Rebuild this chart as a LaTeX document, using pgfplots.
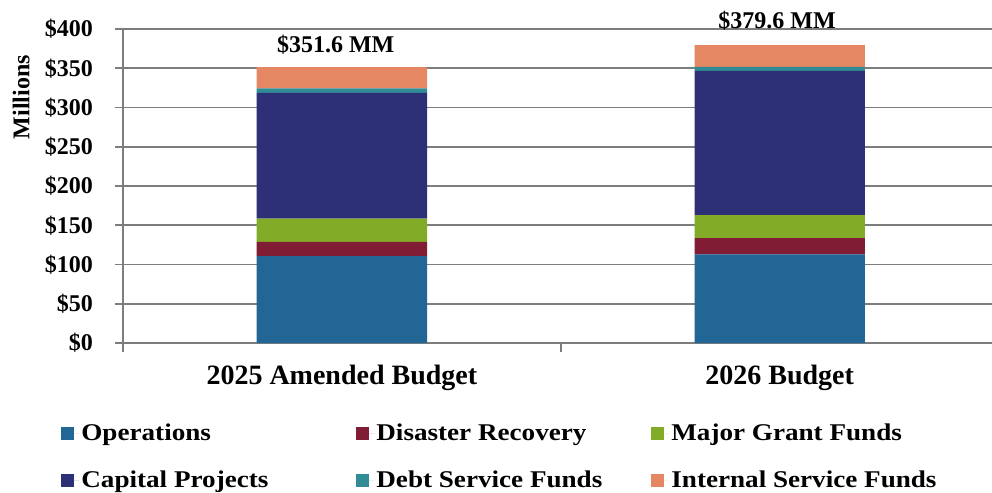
\documentclass[border=0pt]{standalone}
\usepackage{pgfplots}
\pgfplotsset{compat=1.18}
\usepackage{fontspec}
\setmainfont{Liberation Serif}
\newfontfamily\legfont[FakeStretch=1.13]{Liberation Serif}
\definecolor{cOps}{RGB}{33,102,148}
\definecolor{cDis}{RGB}{128,28,52}
\definecolor{cGrant}{RGB}{130,172,40}
\definecolor{cCap}{RGB}{45,48,118}
\definecolor{cDebt}{RGB}{50,140,150}
\definecolor{cInt}{RGB}{230,135,100}
\definecolor{cGrid}{RGB}{125,125,125}
\begin{document}
\begin{tikzpicture}
\useasboundingbox (-61.5pt,-75pt) rectangle (434.5pt,171.5pt);
\begin{axis}[
  at={(0pt,0pt)}, anchor=south west,
  scale only axis, width=434.5pt, height=157pt,
  ybar stacked, bar width=0.389,
  xmin=-0.5, xmax=1.485, ymin=0, ymax=400,
  xtick={0,1}, xticklabels={2025 Amended Budget, 2026 Budget},
  minor xtick={-0.5,0.5},
  ytick={0,50,...,400},
  ymajorgrids,
  grid style={cGrid, line width=0.8pt},
  axis x line*=bottom, axis y line*=left,
  axis line style={cGrid, line width=0.8pt},
  tick align=outside,
  major tick length=4pt, minor tick length=4.5pt,
  major x tick style={draw=none},
  minor x tick style={cGrid, line width=0.8pt},
  major y tick style={cGrid, line width=0.8pt},
  /pgf/number format/assume math mode=true,
  yticklabel={\$\pgfmathprintnumber{\tick}},
  yticklabel style={font=\bfseries\fontsize{12}{14}\selectfont, xshift=-7.5pt},
  xticklabel style={font=\bfseries\fontsize{14}{16}\selectfont, yshift=-3.5pt},
  clip=false,
  legend columns=3,
  legend cell align=left,
  legend style={draw=none, fill=none, inner sep=0pt, at={(axis description cs:0,0)}, anchor=north west,
    xshift=-31pt, yshift=-39pt, font=\legfont\bfseries\fontsize{12}{14}\selectfont,
    nodes={inner sep=1pt}, row sep=12pt, /tikz/every even column/.append style={column sep=0pt}},
  legend image code/.code={\fill[#1,draw=none] (0pt,-3.2pt) rectangle (6.5pt,3.3pt); \path (0pt,0pt) -- (9pt,0pt);},
]
\addplot[fill=cOps, draw=none] coordinates {(0,110.6) (1,113.0)};
\addlegendentry{\makebox[136.5pt][l]{Operations}}
\addplot[fill=cDis, draw=none] coordinates {(0,18.2) (1,20.5)};
\addlegendentry{\makebox[136.5pt][l]{Disaster Recovery}}
\addplot[fill=cGrant, draw=none] coordinates {(0,29.8) (1,29.4)};
\addlegendentry{Major Grant Funds}
\addplot[fill=cCap, draw=none] coordinates {(0,160.2) (1,183.9)};
\addlegendentry{\makebox[136.5pt][l]{Capital Projects}}
\addplot[fill=cDebt, draw=none] coordinates {(0,5.6) (1,5.1)};
\addlegendentry{\makebox[136.5pt][l]{Debt Service Funds}}
\addplot[fill=cInt, draw=none] coordinates {(0,27.2) (1,27.7)};
\addlegendentry{Internal Service Funds}
\node[font=\bfseries\fontsize{12}{14}\selectfont] at (axis cs:-0.014,380) {\$351.6 MM};
\node[font=\bfseries\fontsize{12}{14}\selectfont] at (axis cs:0.994,410) {\$379.6 MM};
\node[rotate=90, anchor=south, font=\bfseries\fontsize{12}{14}\selectfont] at (axis cs:-0.697,313) {Millions};
\end{axis}
\end{tikzpicture}
\end{document}
